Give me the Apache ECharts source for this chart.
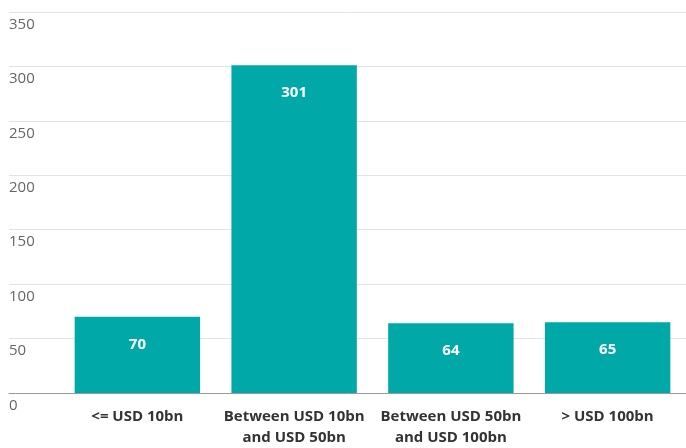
<!DOCTYPE html>
<html><head><meta charset="utf-8">
<script src="https://cdn.jsdelivr.net/npm/echarts@6/dist/echarts.min.js"></script>
<style>html,body{margin:0;padding:0;background:#fff}#c{width:686px;height:448px}</style>
</head><body><div id="c"></div>
<script>
var categories = ['<= USD 10bn', 'Between USD 10bn\nand USD 50bn', 'Between USD 50bn\nand USD 100bn', '> USD 100bn'];
var values = [70, 301, 64, 65];
var yTicks = [0, 50, 100, 150, 200, 250, 300, 350];

var chart = echarts.init(document.getElementById('c'), null, {renderer: 'canvas'});
var font = '"Open Sans", "Noto Sans", sans-serif';
chart.setOption({
  animation: false,
  grid: [
    {left: 9, right: 0, top: 12, bottom: 55},
    {left: 59, right: 0, top: 12, bottom: 55}
  ],
  xAxis: [
    {gridIndex: 0, type: 'value', min: 0, max: 1, show: true,
     axisLine: {show: true, onZero: false, lineStyle: {color: '#9a9a9a', width: 1}},
     axisTick: {show: false}, axisLabel: {show: false}, splitLine: {show: false}},
    {gridIndex: 1, type: 'category', data: categories,
     axisLine: {show: false}, axisTick: {show: false},
     axisLabel: {margin: 13, color: '#333', fontFamily: font, fontWeight: 'bold', fontSize: 15, lineHeight: 21, interval: 0}}
  ],
  yAxis: [
    {gridIndex: 0, type: 'value', min: yTicks[0], max: yTicks[yTicks.length-1], interval: 50,
     axisLine: {show: false}, axisTick: {show: false},
     splitLine: {lineStyle: {color: '#e3e3e3', width: 1}},
     axisLabel: {inside: true, margin: 0, align: 'left', verticalAlign: 'top', padding: [5,0,0,0],
       color: '#666', fontFamily: font, fontSize: 15}},
    {gridIndex: 1, type: 'value', min: yTicks[0], max: yTicks[yTicks.length-1], interval: 50, show: false,
     splitLine: {show: false}}
  ],
  series: [{
    type: 'bar', xAxisIndex: 1, yAxisIndex: 1, data: values,
    barCategoryGap: '20%',
    itemStyle: {color: '#00a9a7'},
    label: {show: true, position: 'insideTop', distance: 20, color: '#fff',
      fontFamily: font, fontWeight: 'bold', fontSize: 15}
  }]
});
</script></body></html>
